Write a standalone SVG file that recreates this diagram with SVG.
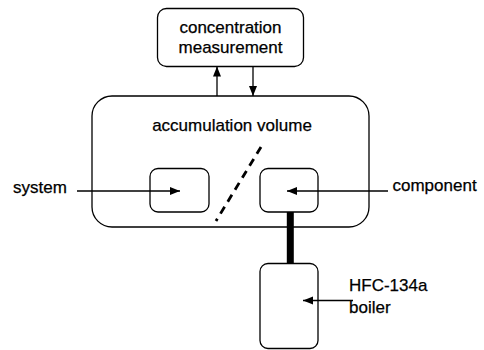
<svg xmlns="http://www.w3.org/2000/svg" width="484" height="350" viewBox="0 0 484 350">
<defs>
<style>
.box{fill:#fff;stroke:#000;stroke-width:1.3}
.t{font-family:"Liberation Sans",Arial,sans-serif;font-size:17px;fill:#000;stroke:#000;stroke-width:0.25}
.c{text-anchor:middle}
.a{stroke:#000;stroke-width:1.3;fill:none;marker-end:url(#ah)}
</style>
<marker id="ah" markerUnits="userSpaceOnUse" markerWidth="10" markerHeight="10" viewBox="0 0 10 10" refX="10" refY="5" orient="auto">
<path d="M0,1 L10,5 L0,9 Z" fill="#000"/>
</marker>
</defs>
<rect width="484" height="350" fill="#fff"/>
<g id="concentration">
<rect class="box" x="157.5" y="8.5" width="146" height="58" rx="9"/>
<text class="t c" x="230.5" y="33">concentration</text>
<text class="t c" x="230.5" y="52.5">measurement</text>
</g>
<g id="accumulation">
<rect class="box" x="92" y="96" width="277" height="131" rx="20"/>
<text class="t c" x="232" y="130.5">accumulation volume</text>
</g>
<g id="system">
<rect class="box" x="150" y="168.5" width="59" height="43.5" rx="8"/>
</g>
<g id="component">
<rect class="box" x="260" y="168.5" width="58" height="43.5" rx="8"/>
</g>
<g id="boiler">
<rect class="box" x="260" y="263.5" width="58" height="85" rx="8"/>
</g>
<g id="labels">
<text class="t" x="13" y="193">system</text>
<text class="t" x="392.5" y="191">component</text>
<text class="t" x="349" y="291">HFC-134a</text>
<text class="t" x="349" y="312.5">boiler</text>
</g>
<g id="connectors">
<line class="a" x1="217" y1="96" x2="217" y2="66.5"/>
<line class="a" x1="253" y1="66.5" x2="253" y2="96"/>
<line class="a" x1="77" y1="191" x2="180" y2="191"/>
<line class="a" x1="388" y1="191" x2="287" y2="191"/>
<line class="a" x1="353" y1="300.5" x2="303" y2="300.5"/>
<line x1="290.3" y1="212" x2="290.3" y2="263.5" stroke="#000" stroke-width="7"/>
<line x1="261" y1="147" x2="216" y2="221" stroke="#000" stroke-width="2.8" stroke-dasharray="8,6"/>
</g>
</svg>
